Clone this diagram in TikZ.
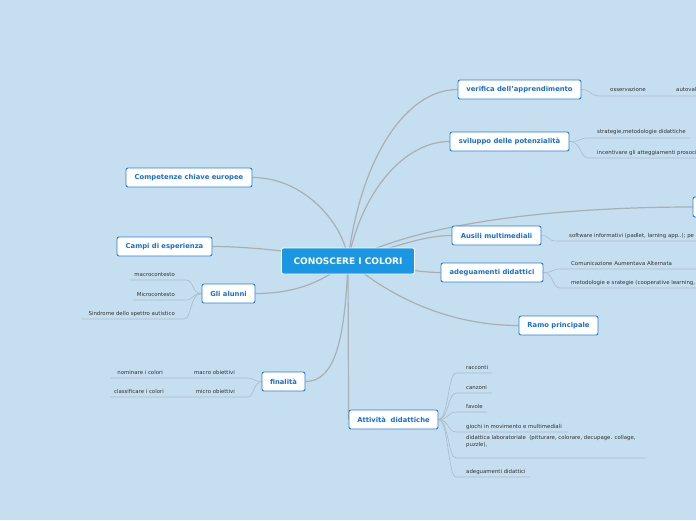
\documentclass[tikz,border=0pt]{standalone}
\usepackage{fontspec}
\setmainfont{DejaVu Sans}
\usetikzlibrary{backgrounds}
\definecolor{bg}{RGB}{197,223,240}
\definecolor{boxborder}{RGB}{40,125,215}
\definecolor{boxtext}{RGB}{25,110,210}
\definecolor{centralfill}{RGB}{27,150,226}
\definecolor{linkgray}{RGB}{170,175,180}
\definecolor{leafline}{RGB}{172,186,198}
\definecolor{leaftext}{RGB}{50,50,50}
\begin{document}
\begin{tikzpicture}[x=1pt,y=-1pt,
  topic/.style={draw=boxborder, line width=0.9pt, fill=white, rounded corners=2pt, minimum height=19pt, inner sep=0pt, font=\fontsize{6.8}{7.5}\selectfont\bfseries, text=boxtext},
  central/.style={draw=white, line width=0.8pt, fill=centralfill, rounded corners=2pt, minimum height=26pt, minimum width=133pt, inner sep=0pt, font=\fontsize{9}{10}\selectfont\bfseries, text=white},
  leaf/.style={font=\fontsize{5.4}{6.5}\selectfont, text=leaftext, inner sep=0pt},
  mainlink/.style={draw=linkgray, line width=1.2pt},
  leaflink/.style={draw=leafline, line width=0.6pt},
]
\useasboundingbox (0,0) rectangle (696,520);
\clip (0,0) rectangle (696,520);

% topic nodes
\node[central] (root) at (348,261) {CONOSCERE I COLORI};
\node[topic, minimum width=123pt] (verifica) at (519.5,89.5) {verifica dell'apprendimento};
\node[topic, minimum width=119pt] (sviluppo) at (509.5,141.5) {sviluppo delle potenzialità};
\node[topic, minimum width=89pt] (ausili) at (496.5,235.5) {Ausili multimediali};
\node[topic, minimum width=102pt] (adeg) at (492,272.5) {adeguamenti didattici};
\node[topic, minimum width=79pt] (ramo) at (558.5,325.5) {Ramo principale};
\node[topic, minimum width=89pt] (attivita) at (393.5,419.5) {Attività\ \ didattiche};
\node[topic, minimum width=43pt] (finalita) at (283.5,381.5) {finalità};
\node[topic, minimum width=53pt] (alunni) at (228.5,293.5) {Gli alunni};
\node[topic, minimum width=95pt] (campi) at (164.5,246.5) {Campi di esperienza};
\node[topic, minimum width=126pt] (comp) at (189,177.5) {Competenze chiave europee};
\node[topic, minimum width=60pt, minimum height=20pt] (extra) at (723,207) {};

% leaves: verifica
\node[leaf, anchor=base west] (oss) at (610,91) {osservazione};
\node[leaf, anchor=base west] (autoval) at (676,91) {autovalutazione};
\coordinate (oss-a) at (600,96); \coordinate (oss-b) at (662,96); \coordinate (aut-b) at (720,96);
% sviluppo
\node[leaf, anchor=base west] (s1) at (597,133) {strategie,metodologie didattiche};
\node[leaf, anchor=base west] (s2) at (597,154) {incentivare gli atteggiamenti prosociali};
\coordinate (s1-a) at (588,138); \coordinate (s1-b) at (690,138);
\coordinate (s2-a) at (588,158); \coordinate (s2-b) at (720,158);
% ausili
\node[leaf, anchor=base west] (a1) at (569,237) {software informativi (padlet, larning app..); pe};
\coordinate (a1-a) at (556,241); \coordinate (a1-b) at (720,241);
% adeguamenti
\node[leaf, anchor=base west] (d1) at (571,265) {Comunicazione Aumentava Alternata};
\node[leaf, anchor=base west] (d2) at (571,284) {metodologie e srategie (cooperative learning,};
\coordinate (d1-a) at (560,269); \coordinate (d1-b) at (720,269);
\coordinate (d2-a) at (560,288); \coordinate (d2-b) at (720,288);
% alunni
\node[leaf, anchor=base east] (macroc) at (175,276) {macrocontesto};
\node[leaf, anchor=base east] (microc) at (175,296) {Microcontesto};
\node[leaf, anchor=base east] (sindr) at (175,315) {Sindrome dello spettro autistico};
\coordinate (mc-a) at (186,280); \coordinate (mc-b) at (130,280);
\coordinate (mi-a) at (186,300); \coordinate (mi-b) at (133,300);
\coordinate (si-a) at (184,319); \coordinate (si-b) at (82,319);
% finalita
\node[leaf, anchor=base east] (macroo) at (235,374) {macro obiettivi};
\node[leaf, anchor=base east] (microo) at (235,393) {micro obiettivi};
\node[leaf, anchor=base east] (nomin) at (163,374) {nominare i colori};
\node[leaf, anchor=base east] (classif) at (164,393) {classificare i colori};
\coordinate (mo-a) at (248,378); \coordinate (mo-b) at (186,378); \coordinate (no-b) at (110,378);
\coordinate (mio-a) at (248,397); \coordinate (mio-b) at (186,397); \coordinate (cl-b) at (110,397);
% attivita
\node[leaf, anchor=base west] (racc) at (466,369) {racconti};
\node[leaf, anchor=base west] (canz) at (466,389) {canzoni};
\node[leaf, anchor=base west] (fav) at (466,408) {favole};
\node[leaf, anchor=base west] (gioc) at (466,428) {giochi in movimento e multimediali};
\node[leaf, anchor=base west, align=left] (lab) at (466,446) {didattica laboratoriale\ \ (pitturare, colorare, decupage. collage,\\puzzle),};
\node[leaf, anchor=base west] (adid) at (466,473) {adeguamenti didattici};
\coordinate (r-a) at (456,373); \coordinate (r-b) at (492,373);
\coordinate (c-a) at (456,393); \coordinate (c-b) at (492,393);
\coordinate (f-a) at (456,412); \coordinate (f-b) at (487,412);
\coordinate (g-a) at (456,432); \coordinate (g-b) at (568,432);
\coordinate (l-a) at (456,458); \coordinate (l-b) at (645,458);
\coordinate (ad-a) at (456,477); \coordinate (ad-b) at (530,477);

\begin{scope}[on background layer]
\fill[bg] (0,0) rectangle (696,520);
% main links
\draw[mainlink] (root.center) .. controls (360,160) and (405,89.5) .. (verifica.west);
\draw[mainlink] (root.center) .. controls (362,190) and (405,141.5) .. (sviluppo.west);
\draw[mainlink] (root.center) .. controls (400,245) and (425,235.5) .. (ausili.west);
\draw[mainlink] (root.center) .. controls (420,222) and (560,207) .. (extra.west);
\draw[mainlink] (root.center) .. controls (400,268) and (420,272.5) .. (adeg.west);
\draw[mainlink] (root.center) .. controls (400,305) and (460,325.5) .. (ramo.west);
\draw[mainlink] (root.center) -- (attivita.west);
\draw[mainlink] (root.center) .. controls (345,340) and (335,381.5) .. (finalita.east);
\draw[mainlink] (root.center) .. controls (320,285) and (290,293.5) .. (alunni.east);
\draw[mainlink] (root.center) .. controls (300,252) and (250,246.5) .. (campi.east);
\draw[mainlink] (root.center) .. controls (345,225) and (305,177.5) .. (comp.east);
% leaf links
\draw[leaflink] (verifica.east) .. controls +(10,0) and +(-10,0) .. (oss-a) -- (oss-b) -- (aut-b);
\draw[leaflink] (sviluppo.east) .. controls +(12,0) and +(-8,0) .. (s1-a) -- (s1-b);
\draw[leaflink] (sviluppo.east) .. controls +(12,0) and +(-8,0) .. (s2-a) -- (s2-b);
\draw[leaflink] (ausili.east) .. controls +(8,0) and +(-8,0) .. (a1-a) -- (a1-b);
\draw[leaflink] (adeg.east) .. controls +(10,0) and +(-8,0) .. (d1-a) -- (d1-b);
\draw[leaflink] (adeg.east) .. controls +(10,0) and +(-8,0) .. (d2-a) -- (d2-b);
\draw[leaflink] (alunni.west) .. controls +(-10,0) and +(8,0) .. (mc-a) -- (mc-b);
\draw[leaflink] (alunni.west) .. controls +(-10,0) and +(8,0) .. (mi-a) -- (mi-b);
\draw[leaflink] (alunni.west) .. controls +(-12,0) and +(8,0) .. (si-a) -- (si-b);
\draw[leaflink] (finalita.west) .. controls +(-8,0) and +(6,0) .. (mo-a) -- (mo-b) -- (no-b);
\draw[leaflink] (finalita.west) .. controls +(-8,0) and +(6,0) .. (mio-a) -- (mio-b) -- (cl-b);
\draw[leaflink] (attivita.east) .. controls +(10,0) and +(-8,0) .. (r-a) -- (r-b);
\draw[leaflink] (attivita.east) .. controls +(10,0) and +(-8,0) .. (c-a) -- (c-b);
\draw[leaflink] (attivita.east) .. controls +(10,0) and +(-8,0) .. (f-a) -- (f-b);
\draw[leaflink] (attivita.east) .. controls +(10,0) and +(-8,0) .. (g-a) -- (g-b);
\draw[leaflink] (attivita.east) .. controls +(10,0) and +(-8,0) .. (l-a) -- (l-b);
\draw[leaflink] (attivita.east) .. controls +(10,0) and +(-8,0) .. (ad-a) -- (ad-b);
\end{scope}
\end{tikzpicture}
\end{document}
